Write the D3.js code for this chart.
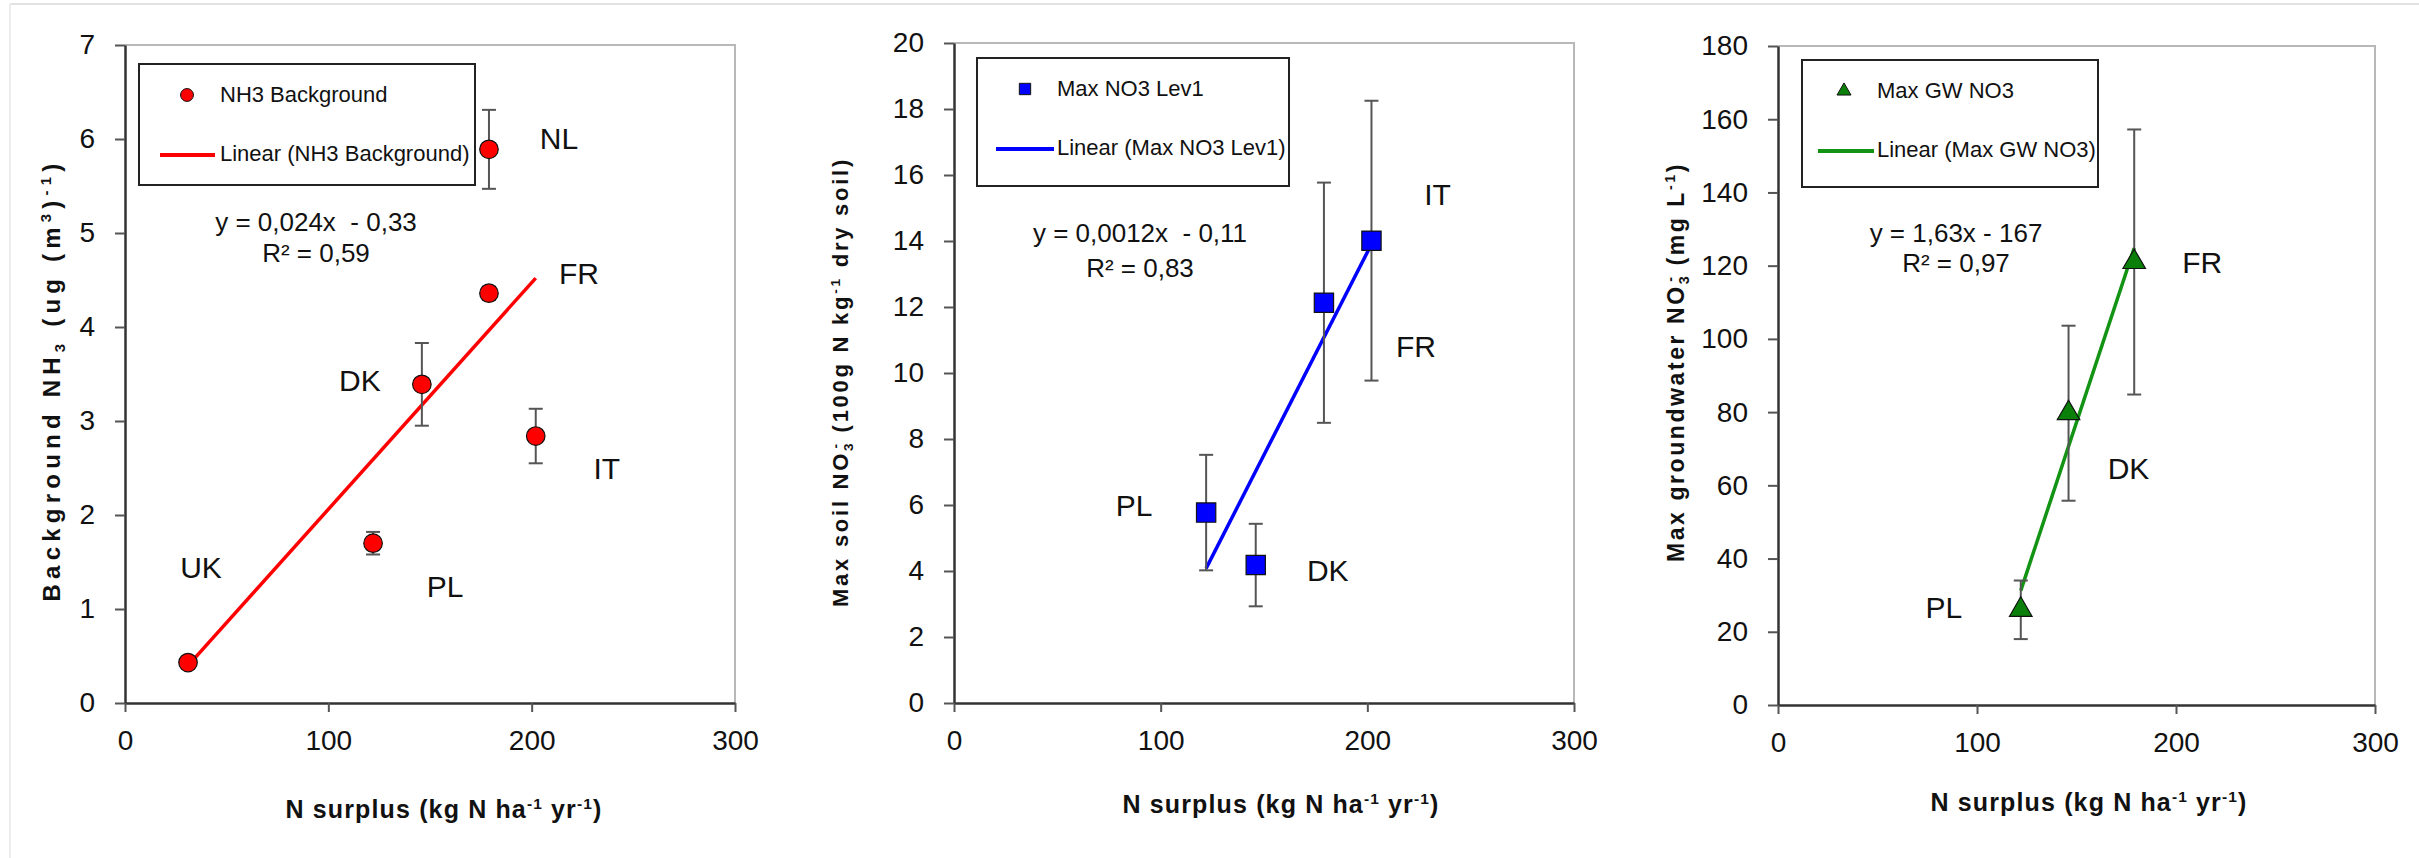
<!DOCTYPE html>
<html>
<head>
<meta charset="utf-8">
<title>N surplus vs NH3 / NO3</title>
<script src="https://cdn.jsdelivr.net/npm/d3@7"></script>
<style>
  body { margin: 0; background: #fff; }
  svg { display: block; }
  text { font-family: "Liberation Sans", Arial, sans-serif; fill: #111; }
  .axis .domain { stroke: #333; stroke-width: 2.5; }
  .axis .tick line { stroke: #555; stroke-width: 2; }
  .axis .tick text { font-family: "Liberation Sans", Arial, sans-serif; font-size: 28px; fill: #111; }
  .bold { font-weight: bold; }
</style>
</head>
<body>
<svg id="chart" width="2419" height="858"></svg>
<script>
// panel 1: background NH3
const countries1 = ['UK', 'PL', 'DK', 'NL', 'FR', 'IT'];
const surplus1 = [31, 122, 146, 179, 179, 202];
const nh3 = [0.43, 1.70, 3.39, 5.89, 4.36, 2.84];
const nh3Err = [0, 0.12, 0.44, 0.42, 0.07, 0.29];

// panel 2: max soil NO3
const countries2 = ['PL', 'DK', 'FR', 'IT'];
const surplus2 = [122, 146, 179, 202];
const soilNO3 = [5.77, 4.18, 12.13, 14.01];
const soilErr = [1.75, 1.25, 3.64, 4.24];

// panel 3: max groundwater NO3
const countries3 = ['PL', 'DK', 'FR'];
const surplus3 = [122, 146, 179];
const gwNO3 = [26, 79.7, 121];
const gwErr = [8, 23.9, 36.2];

const xTicks = [0, 100, 200, 300];
const yTicks1 = [0, 1, 2, 3, 4, 5, 6, 7];
const yTicks2 = [0, 2, 4, 6, 8, 10, 12, 14, 16, 18, 20];
const yTicks3 = [0, 20, 40, 60, 80, 100, 120, 140, 160, 180];

const svg = d3.select('#chart');

// faint screenshot edges
svg.append('line').attr('x1', 10).attr('x2', 2419).attr('y1', 4).attr('y2', 4)
  .attr('stroke', '#e2e2e2').attr('stroke-width', 2);
svg.append('line').attr('x1', 10).attr('x2', 10).attr('y1', 4).attr('y2', 858)
  .attr('stroke', '#ececec').attr('stroke-width', 2);

// text with sub / superscripts, parts = [text, kind, dx]
function richText(sel, parts, size) {
  let shift = 0;
  parts.forEach(p => {
    const kind = p[1] || '';
    const target = kind === 'sub' ? 0.22 * size : kind === 'sup' ? -0.38 * size : 0;
    const t = sel.append('tspan')
      .attr('dy', target - shift)
      .text(p[0]);
    if (kind) t.style('font-size', (0.62 * size) + 'px');
    if (p[2]) t.attr('dx', p[2]);
    shift = target;
  });
}

// widen letter spacing so the title covers the same length as in the picture
function fitLength(sel, target) {
  const node = sel.node();
  const len = node.getBBox().width;
  const n = node.textContent.length;
  sel.style('letter-spacing', Math.max(0, (target - len) / n) + 'px');
}

function linFit(xs, ys) {
  const mx = d3.mean(xs), my = d3.mean(ys);
  let sxy = 0, sxx = 0;
  xs.forEach((x, i) => { sxy += (x - mx) * (ys[i] - my); sxx += (x - mx) * (x - mx); });
  const b = sxy / sxx;
  return { b: b, a: my - b * mx };
}

function drawPanel(c) {
  const x = d3.scaleLinear().domain([0, 300]).range([c.left, c.right]);
  const y = d3.scaleLinear().domain([0, c.yMax]).range([c.bottom, c.top]);
  const g = svg.append('g');

  // grey top and right frame
  g.append('path')
    .attr('d', `M${c.left},${c.top}H${c.right}V${c.bottom}`)
    .attr('fill', 'none').attr('stroke', '#b8b8b8').attr('stroke-width', 2);

  const yAxis = d3.axisLeft(y).tickValues(c.yTicks).tickFormat(d3.format('d'))
    .tickSize(10).tickPadding(20).tickSizeOuter(0);
  const xAxis = d3.axisBottom(x).tickValues(xTicks).tickFormat(d3.format('d'))
    .tickSize(9).tickPadding(18).tickSizeOuter(0);
  g.append('g').attr('class', 'axis').attr('transform', `translate(${c.left},0)`).call(yAxis);
  g.append('g').attr('class', 'axis').attr('transform', `translate(0,${c.bottom})`).call(xAxis);

  // legend
  const L = c.legend;
  g.append('rect').attr('x', L.x).attr('y', L.y).attr('width', L.w).attr('height', L.h)
    .attr('fill', '#fff').attr('stroke', '#222').attr('stroke-width', 2);
  g.append('path')
    .attr('d', d3.symbol().type(c.symbol).size(c.legendSize)())
    .attr('transform', `translate(${L.x + L.mx},${L.y + 31})`)
    .attr('fill', c.fill).attr('stroke', '#111').attr('stroke-width', 1);
  g.append('text').attr('x', L.x + L.tx).attr('y', L.y + 38)
    .style('font-size', '22px').text(c.name);
  g.append('line')
    .attr('x1', L.x + L.lx1).attr('x2', L.x + L.lx2)
    .attr('y1', L.y + 91).attr('y2', L.y + 91)
    .attr('stroke', c.line).attr('stroke-width', 4);
  g.append('text').attr('x', L.x + L.tx).attr('y', L.y + 97)
    .style('font-size', '22px').text('Linear (' + c.name + ')');

  // trend line
  const fit = linFit(c.xs, c.ys);
  const x0 = d3.min(c.xs), x1 = d3.max(c.xs);
  g.append('line')
    .attr('x1', x(x0)).attr('y1', y(fit.a + fit.b * x0))
    .attr('x2', x(x1)).attr('y2', y(fit.a + fit.b * x1))
    .attr('stroke', c.line).attr('stroke-width', 3.5);

  // equation
  c.eq.forEach((t, i) => {
    g.append('text')
      .attr('x', c.eqPos[0]).attr('y', c.eqPos[1] + i * c.eqPos[2])
      .attr('text-anchor', 'middle').style('font-size', '26px')
      .style('white-space', 'pre')
      .text(t);
  });

  // error bars
  const eb = g.append('g').attr('stroke', '#555').attr('stroke-width', 2);
  c.xs.forEach((v, i) => {
    const e = c.err[i];
    if (!e) return;
    const px = x(v), top = y(c.ys[i] + e), bot = y(c.ys[i] - e);
    eb.append('line').attr('x1', px).attr('x2', px).attr('y1', top).attr('y2', bot);
    eb.append('line').attr('x1', px - 7).attr('x2', px + 7).attr('y1', top).attr('y2', top);
    eb.append('line').attr('x1', px - 7).attr('x2', px + 7).attr('y1', bot).attr('y2', bot);
  });

  // markers
  g.selectAll('.pt').data(c.xs).enter().append('path')
    .attr('class', 'pt')
    .attr('d', d3.symbol().type(c.symbol).size(c.size)())
    .attr('transform', (d, i) => `translate(${x(d)},${y(c.ys[i])})`)
    .attr('fill', c.fill).attr('stroke', '#111').attr('stroke-width', 1.2);

  // country labels
  c.labels.forEach((lab, i) => {
    g.append('text')
      .attr('x', x(c.xs[i]) + c.labelOff[i][0])
      .attr('y', y(c.ys[i]) + c.labelOff[i][1])
      .attr('text-anchor', 'middle').attr('dominant-baseline', 'central')
      .style('font-size', '30px').text(lab);
  });

  // axis titles
  const yl = g.append('text').attr('class', 'bold')
    .attr('transform', `translate(${c.yLab[0]},${c.yLab[1]}) rotate(-90)`)
    .attr('text-anchor', 'middle')
    .style('font-size', c.yLabSize + 'px');
  richText(yl, c.yTitle, c.yLabSize);
  fitLength(yl, c.yLab[2]);

  const xl = g.append('text').attr('class', 'bold')
    .attr('x', c.xLab[0]).attr('y', c.xLab[1])
    .attr('text-anchor', 'middle')
    .style('font-size', '25px');
  richText(xl, [['N surplus (kg N ha'], ['-1', 'sup'], [' yr'], ['-1', 'sup'], [')']], 25);
  fitLength(xl, 317);
}

drawPanel({
  xs: surplus1, ys: nh3, err: nh3Err, labels: countries1,
  left: 125, right: 735, top: 45, bottom: 703, yMax: 7, yTicks: yTicks1,
  symbol: d3.symbolCircle, size: 270, legendSize: 130,
  fill: '#ff0000', line: '#ff0000', name: 'NH3 Background',
  legend: { x: 139, y: 64, w: 336, h: 121, mx: 48, tx: 81, lx1: 21, lx2: 76 },
  eq: ['y = 0,024x  - 0,33', 'R² = 0,59'], eqPos: [316, 231, 31],
  labelOff: [[13, -95], [72, 43], [-62, -4], [70, -11], [90, -20], [71, 32]],
  yLab: [60, 380, 443], yLabSize: 24,
  yTitle: [['Background NH'], ['3', 'sub'], [' (ug (m'], ['3', 'sup'], [')'], ['-1', 'sup'], [')']],
  xLab: [444, 818]
});

drawPanel({
  xs: surplus2, ys: soilNO3, err: soilErr, labels: countries2,
  left: 954, right: 1574, top: 43, bottom: 703, yMax: 20, yTicks: yTicks2,
  symbol: d3.symbolSquare, size: 372, legendSize: 128,
  fill: '#0000ff', line: '#0000ff', name: 'Max NO3 Lev1',
  legend: { x: 977, y: 58, w: 312, h: 128, mx: 48, tx: 80, lx1: 19, lx2: 77 },
  eq: ['y = 0,0012x  - 0,11', 'R² = 0,83'], eqPos: [1140, 242, 35],
  labelOff: [[-72, -7], [72, 5], [92, 44], [66, -46]],
  yLab: [848, 382, 450], yLabSize: 22,
  yTitle: [['Max soil NO'], ['3', 'sub'], ['-', 'sup', -8], [' (100g N kg'], ['-1', 'sup'], [' dry soil)']],
  xLab: [1281, 813]
});

drawPanel({
  xs: surplus3, ys: gwNO3, err: gwErr, labels: countries3,
  left: 1778, right: 2375, top: 46, bottom: 705, yMax: 180, yTicks: yTicks3,
  symbol: d3.symbolTriangle, size: 220, legendSize: 85,
  fill: '#0a800a', line: '#139313', name: 'Max GW NO3',
  legend: { x: 1802, y: 60, w: 296, h: 127, mx: 42, tx: 75, lx1: 16, lx2: 72 },
  eq: ['y = 1,63x - 167', 'R² = 0,97'], eqPos: [1956, 242, 30],
  labelOff: [[-77, -2], [60, 55], [68, 0]],
  yLab: [1684, 362, 400], yLabSize: 23,
  yTitle: [['Max groundwater NO'], ['3', 'sub'], ['-', 'sup', -8], [' (mg L'], ['-1', 'sup'], [')']],
  xLab: [2089, 811]
});
</script>
</body>
</html>
